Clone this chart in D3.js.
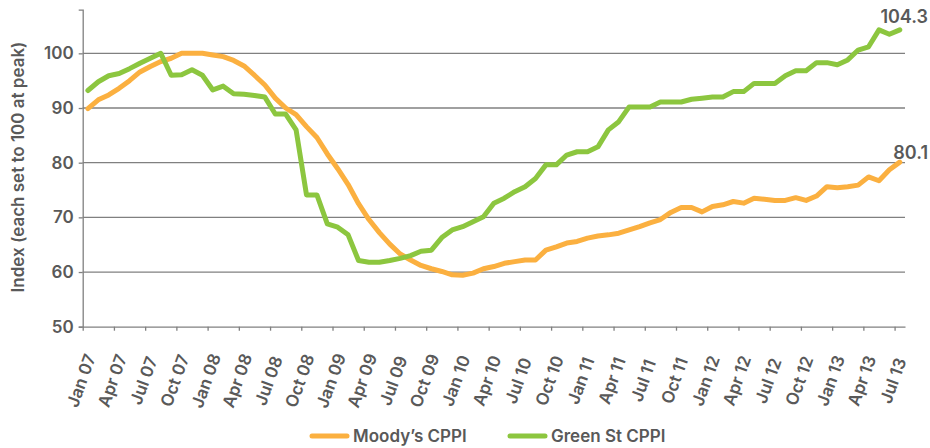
<!DOCTYPE html>
<html>
<head>
<meta charset="utf-8">
<script src="https://cdn.jsdelivr.net/npm/d3@7"></script>
<style>
  body { margin: 0; background: #fff; }
  svg text { font-family: Inter, "Open Sans", sans-serif; font-weight: 600; fill: #595959; }
</style>
</head>
<body>
<div id="chart"></div>
<script>
// quarterly tick labels (one every 3 months, Jan 07 .. Jul 13)
var tickLabels = ["Jan 07","Apr 07","Jul 07","Oct 07","Jan 08","Apr 08","Jul 08","Oct 08",
  "Jan 09","Apr 09","Jul 09","Oct 09","Jan 10","Apr 10","Jul 10","Oct 10",
  "Jan 11","Apr 11","Jul 11","Oct 11","Jan 12","Apr 12","Jul 12","Oct 12",
  "Jan 13","Apr 13","Jul 13"];

// monthly index values, Jan 2007 .. Jul 2013
var moodys = [89.9,91.5,92.4,93.6,95.0,96.6,97.6,98.5,99.1,100,100,100,
  99.7,99.4,98.7,97.7,96.0,94.2,91.8,90.0,88.8,86.6,84.6,81.6,
  78.9,76.0,72.5,69.6,67.2,65.1,63.3,62.2,61.2,60.6,60.1,59.5,
  59.4,59.8,60.6,61.0,61.6,61.9,62.2,62.2,64.0,64.6,65.3,65.6,
  66.2,66.6,66.8,67.1,67.7,68.3,69.0,69.6,70.9,71.8,71.8,71.0,
  72.0,72.3,72.9,72.6,73.5,73.3,73.1,73.1,73.6,73.1,73.9,75.6,
  75.4,75.6,75.9,77.4,76.7,78.7,80.1];

var greenSt = [93.2,94.8,95.9,96.3,97.2,98.2,99.1,100,96.0,96.1,97.0,96.0,
  93.3,94.0,92.6,92.5,92.3,92.0,88.9,88.9,86.0,74.1,74.1,68.8,
  68.2,66.8,62.1,61.8,61.8,62.1,62.5,63.0,63.8,64.0,66.3,67.7,
  68.3,69.2,70.1,72.6,73.5,74.7,75.6,77.1,79.6,79.6,81.4,82.0,
  82.0,82.9,86.0,87.5,90.2,90.2,90.2,91.1,91.1,91.1,91.6,91.8,
  92.0,92.0,93.0,93.0,94.5,94.5,94.5,95.9,96.8,96.8,98.3,98.3,
  97.9,98.8,100.6,101.2,104.3,103.5,104.3];

var yTicks = [50, 60, 70, 80, 90, 100];

var svgWidth = 930;
var svgHeight = 448;
var left = 82.7, right = 905, bottom = 326.7;
var orange = "#fbb040";
var green = "#8cc63f";
var axisGrey = "#808080";

var svg = d3.select("#chart")
    .append("svg")
    .attr("width", svgWidth)
    .attr("height", svgHeight);

var x = d3.scaleLinear().domain([0, moodys.length]).range([left, right]);
var y = d3.scaleLinear().domain([50, 108]).range([bottom, 9.6]);

// gridlines
svg.append("g")
    .selectAll("line")
    .data(yTicks.slice(1))
    .enter()
    .append("line")
    .attr("x1", left)
    .attr("x2", right)
    .attr("y1", d => y(d))
    .attr("y2", d => y(d))
    .attr("stroke", axisGrey)
    .attr("stroke-width", 1.3);

// y axis
var yAxis = svg.append("g")
    .attr("transform", "translate(" + left + ",0)")
    .call(d3.axisLeft(y).tickValues(yTicks).tickSize(4).tickPadding(5));
yAxis.select(".domain").attr("stroke", axisGrey).attr("stroke-width", 1.3);
yAxis.selectAll(".tick line").attr("stroke", axisGrey).attr("stroke-width", 1.3);
yAxis.selectAll(".tick text")
    .attr("font-size", "17px")
    .attr("fill", "#595959");

// x axis, ticks at the start of each quarter
var xAxis = svg.append("g")
    .attr("transform", "translate(0," + bottom + ")")
    .call(d3.axisBottom(x)
        .tickValues(d3.range(0, moodys.length, 3))
        .tickFormat((d, i) => tickLabels[i])
        .tickSize(4)
        .tickSizeOuter(0));
xAxis.select(".domain").attr("stroke", axisGrey).attr("stroke-width", 1.3);
xAxis.selectAll(".tick line").attr("stroke", axisGrey).attr("stroke-width", 1.3);
xAxis.selectAll(".tick text")
    .attr("font-size", "17px")
    .attr("fill", "#595959")
    .attr("text-anchor", "middle")
    .attr("dy", "0.35em")
    .attr("y", 0)
    .attr("transform", "translate(-2,54) rotate(-70)");

// y axis title
svg.append("text")
    .attr("transform", "translate(24," + 167 + ") rotate(-90)")
    .attr("text-anchor", "middle")
    .attr("font-size", "17px")
    .text("Index (each set to 100 at peak)");

// lines
var line = d3.line()
    .x((d, i) => x(i + 0.5))
    .y(d => y(d));

svg.append("path")
    .datum(moodys)
    .attr("d", line)
    .attr("fill", "none")
    .attr("stroke", orange)
    .attr("stroke-width", 5)
    .attr("stroke-linejoin", "round")
    .attr("stroke-linecap", "round");

svg.append("path")
    .datum(greenSt)
    .attr("d", line)
    .attr("fill", "none")
    .attr("stroke", green)
    .attr("stroke-width", 5)
    .attr("stroke-linejoin", "round")
    .attr("stroke-linecap", "round");

// end value labels
var last = moodys.length - 1;
svg.append("text")
    .attr("x", 928)
    .attr("y", y(greenSt[last]) - 7)
    .attr("text-anchor", "end")
    .attr("font-size", "18px")
    .text(greenSt[last].toFixed(1));
svg.append("text")
    .attr("x", 928)
    .attr("y", y(moodys[last]) - 3)
    .attr("text-anchor", "end")
    .attr("font-size", "18px")
    .text(moodys[last].toFixed(1));

// legend
var legend = [
    {name: "Moody\u2019s CPPI", color: orange, x: 312},
    {name: "Green St CPPI", color: green, x: 510}
];
var lg = svg.append("g")
    .selectAll("g")
    .data(legend)
    .enter()
    .append("g")
    .attr("transform", d => "translate(" + d.x + ",436)");
lg.append("line")
    .attr("x1", 0).attr("x2", 35)
    .attr("stroke", d => d.color)
    .attr("stroke-width", 5)
    .attr("stroke-linecap", "round");
lg.append("text")
    .attr("x", 41)
    .attr("y", 6)
    .attr("font-size", "17px")
    .text(d => d.name);
</script>
</body>
</html>
